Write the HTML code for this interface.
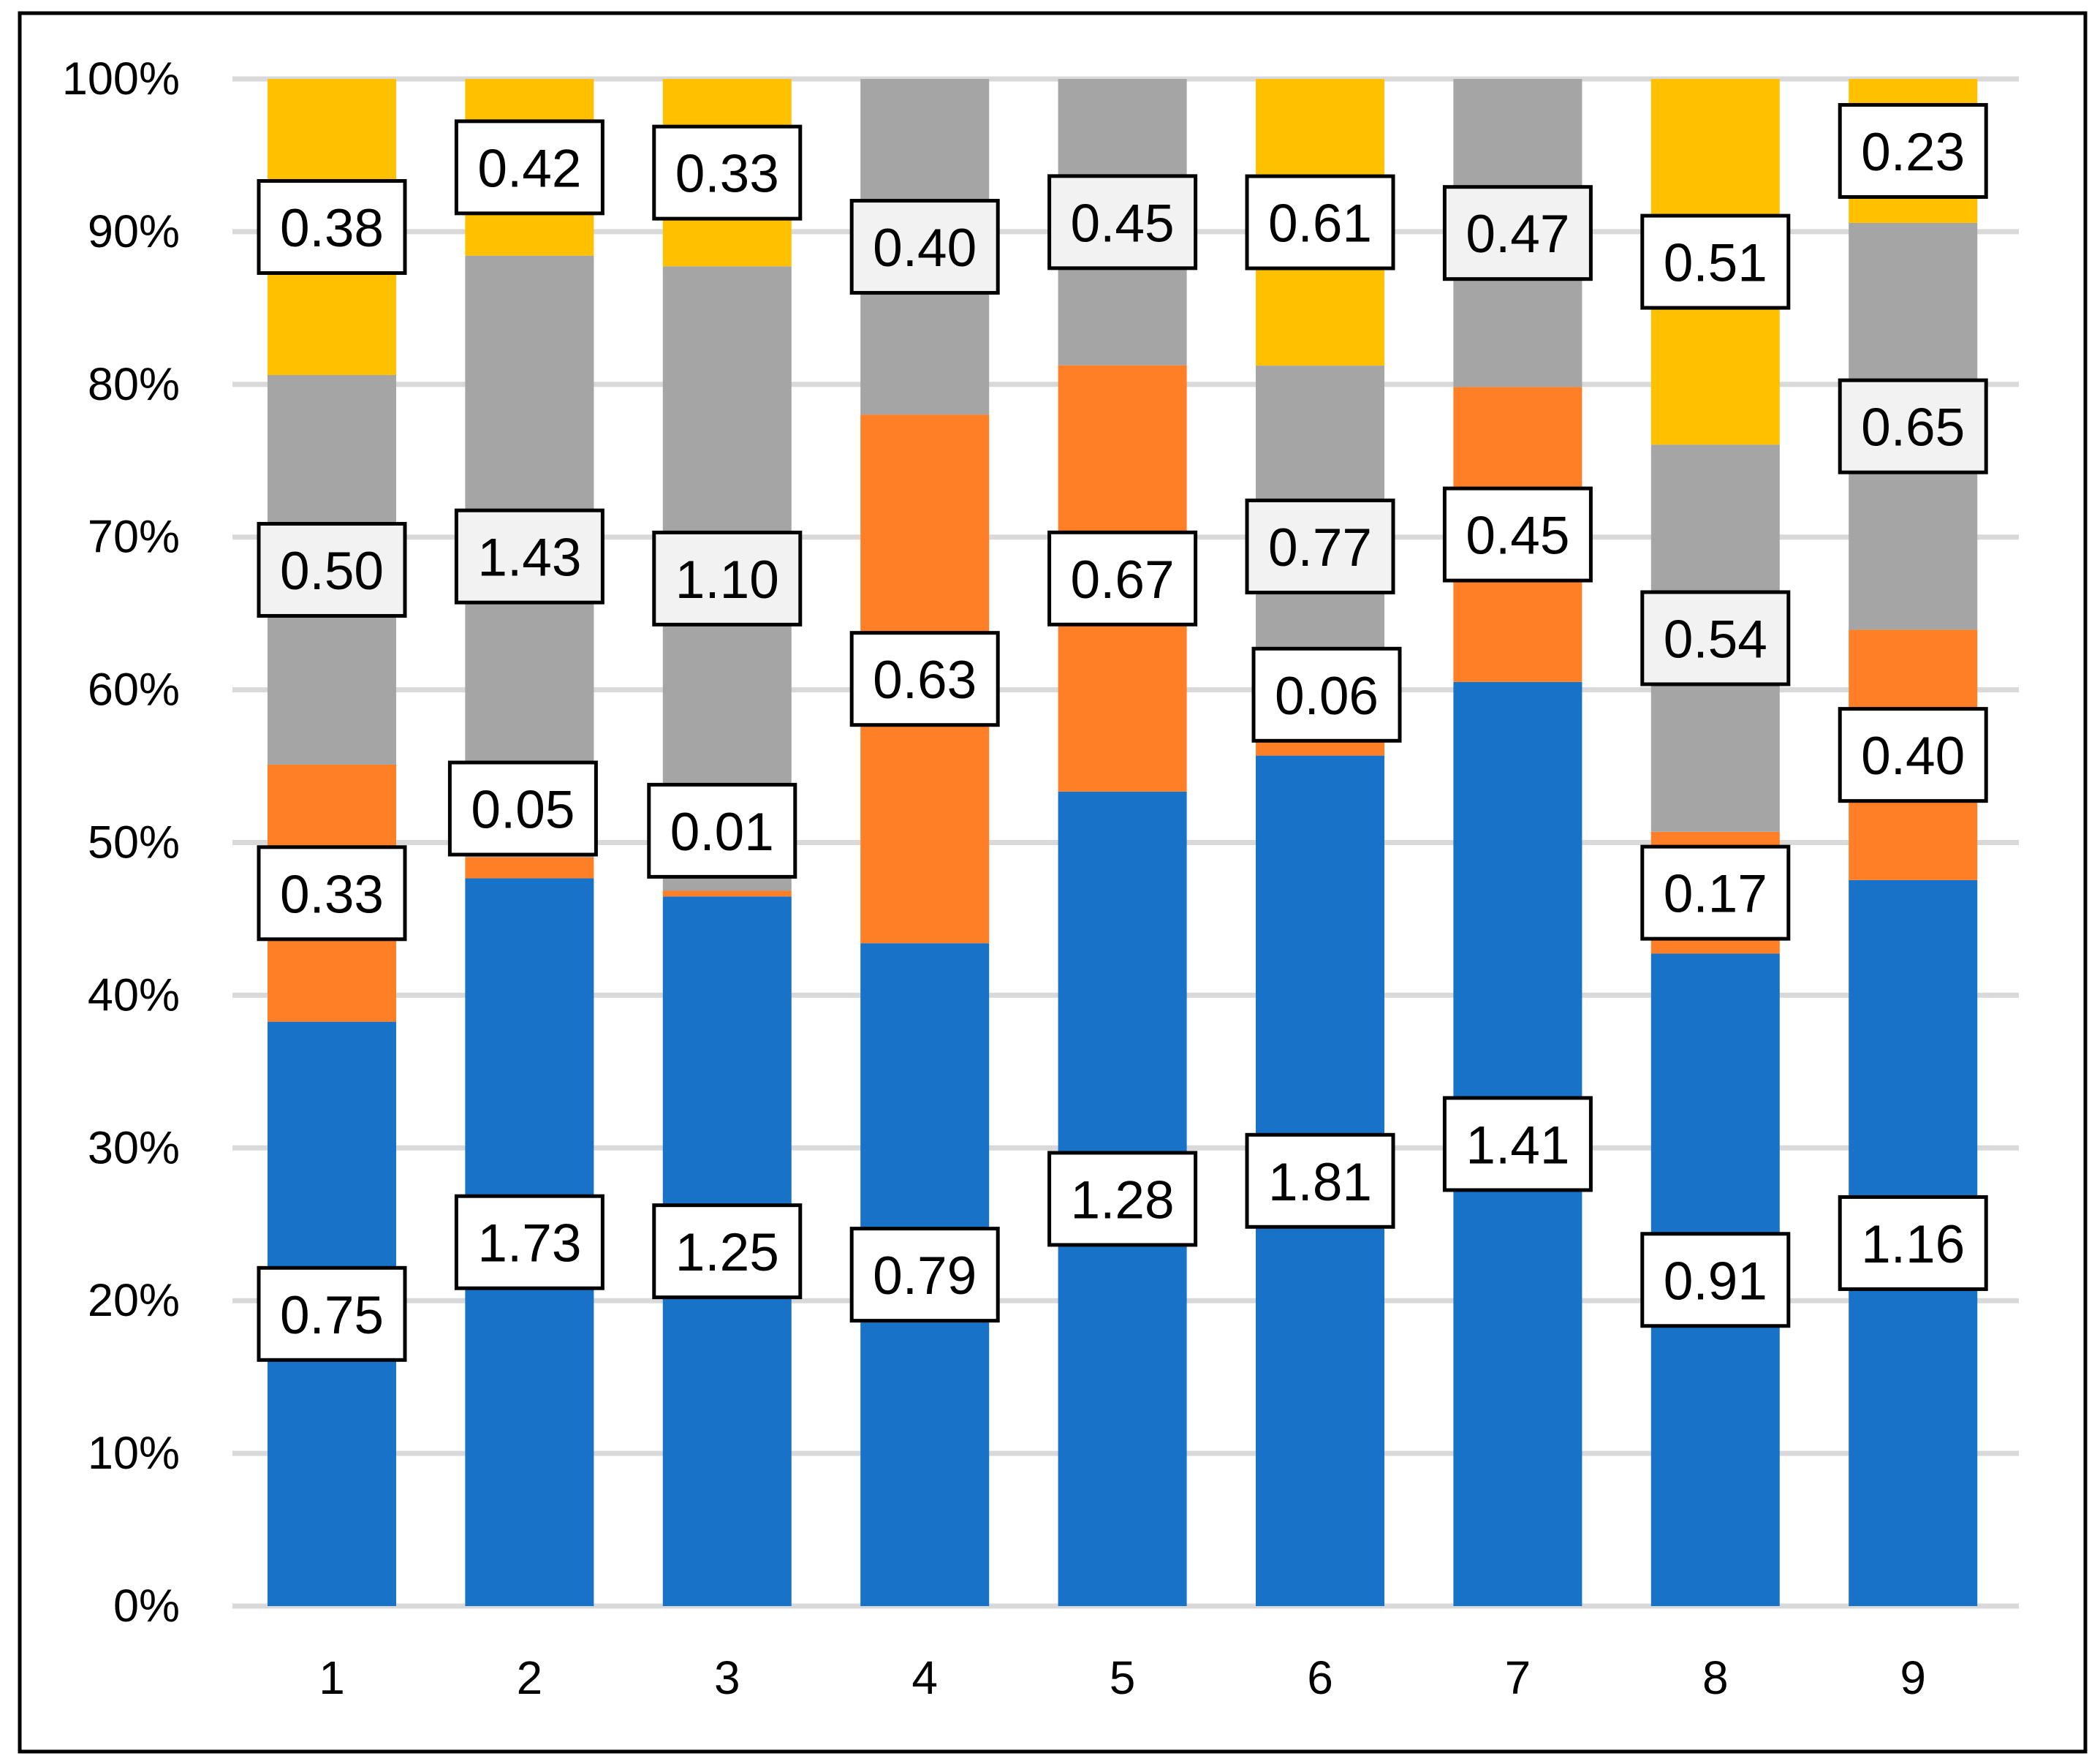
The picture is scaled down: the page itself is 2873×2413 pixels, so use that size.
<!DOCTYPE html>
<html><head><meta charset="utf-8"><style>
html,body{margin:0;padding:0;background:#fff;}
svg{display:block;font-family:"Liberation Sans",sans-serif;}
</style></head><body>
<svg id="chart" width="2873" height="2413" viewBox="0 0 2873 2413" xmlns="http://www.w3.org/2000/svg">
<rect x="27" y="18" width="2826" height="2378" fill="#fff" stroke="#000" stroke-width="5"/>
<g id="grid"></g><g id="bars"></g><g id="labels"></g><g id="axes"></g>
</svg>
<script>
const categories = ["1","2","3","4","5","6","7","8","9"];
const blueValues   = [0.75,1.73,1.25,0.79,1.28,1.81,1.41,0.91,1.16];
const orangeValues = [0.33,0.05,0.01,0.63,0.67,0.06,0.45,0.17,0.40];
const grayValues   = [0.50,1.43,1.10,0.40,0.45,0.77,0.47,0.54,0.65];
const yellowValues = [0.38,0.42,0.33,0,0,0.61,0,0.51,0.23];
const yTicks = [0,10,20,30,40,50,60,70,80,90,100];
// manual label nudges [dx,dy] per bar for the orange series (label placement tweaks)
const orangeNudge = [[0,0],[-9,-81],[-7,-86],[0,0],[0,0],[9,-64],[0,0],[0,0],[0,0]];

const NS="http://www.w3.org/2000/svg";
const plotL=318, plotR=2762, yTop=108, yBot=2197;
const barW=176, firstX=454, pitch=270.4;
const y = p => yBot - (yBot-yTop)*p/100;
const xc = i => firstX + pitch*i;
function mk(tag, attrs, parent){const e=document.createElementNS(NS,tag);for(const k in attrs)e.setAttribute(k,attrs[k]);parent.appendChild(e);return e;}
const grid=document.getElementById('grid'), bars=document.getElementById('bars'), labels=document.getElementById('labels'), axes=document.getElementById('axes');

yTicks.forEach(t=>{
  const l=mk('line',{x1:plotL,x2:plotR,y1:y(t),y2:y(t),stroke:'#d9d9d9','stroke-width':7},grid);
  
  
  const tx=mk('text',{x:246,y:y(t),'text-anchor':'end','dominant-baseline':'central','font-size':63,fill:'#000'},axes);
  tx.textContent=t+'%';
  
  
});
categories.forEach((c,i)=>{
  const tx=mk('text',{x:xc(i),y:2295,'text-anchor':'middle','dominant-baseline':'central','font-size':64,fill:'#000'},axes);
  tx.textContent=c;
  
  
});

const series=[
  {name:'blue',vals:blueValues,color:'#1873c8',lab:'#fff',nudge:null},
  {name:'orange',vals:orangeValues,color:'#ff7f27',lab:'#fff',nudge:orangeNudge},
  {name:'gray',vals:grayValues,color:'#a5a5a5',lab:'#f2f2f2',nudge:null},
  {name:'yellow',vals:yellowValues,color:'#ffc000',lab:'#fff',nudge:null}
];
categories.forEach((c,i)=>{
  const total=series.reduce((s,se)=>s+se.vals[i],0);
  let cum=0;
  series.forEach(se=>{
    const v=se.vals[i];
    const p0=cum/total*100; cum+=v; const p1=cum/total*100;
    if(v<=0) return;
    const r=mk('rect',{x:xc(i)-barW/2,y:y(p1),width:barW,height:y(p0)-y(p1),fill:se.color},bars);
    
    
    const nd=se.nudge?se.nudge[i]:[0,0];
    const cx=xc(i)+nd[0], cy=(y(p0)+y(p1))/2+nd[1];
    const g=mk('g',{},labels);
    
    
    mk('rect',{x:cx-100,y:cy-63,width:200,height:126,fill:se.lab,stroke:'#000','stroke-width':5},g);
    const t=mk('text',{x:cx,y:cy+2,'text-anchor':'middle','dominant-baseline':'central','font-size':73,fill:'#000'},g);
    t.textContent=v.toFixed(2);
  });
});
</script>
</body></html>
